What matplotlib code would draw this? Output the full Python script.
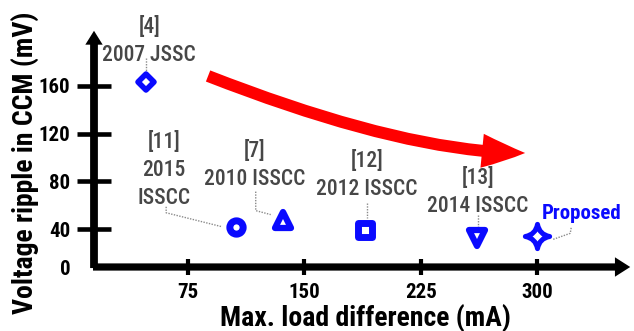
import matplotlib
matplotlib.use("Agg")
import matplotlib.pyplot as plt
import matplotlib.transforms as mtransforms
from matplotlib import font_manager
from matplotlib.markers import MarkerStyle
from matplotlib.patches import FancyArrowPatch
from matplotlib.path import Path

# load step vs. output ripple for published converters
refs = ["[4]", "[11]", "[7]", "[12]", "[13]", "Proposed"]
venues = ["2007 JSSC", "2015\nISSCC", "2010 ISSCC", "2012 ISSCC", "2014 ISSCC", ""]
load_diff = [48, 106, 136, 189, 261, 300]      # mA
ripple = [163, 42, 48, 39, 33, 34]             # mV

x_ticks = [75, 150, 225, 300]
y_ticks = [40, 80, 120, 160]

# condensed sans for all text
available = {f.name for f in font_manager.fontManager.ttflist}
narrow = next((n for n in ["Liberation Sans Narrow", "Arial Narrow", "Arimo Narrow",
                           "Roboto Condensed", "PT Sans Narrow", "Archivo Narrow"]
               if n in available), "Liberation Sans")
plt.rcParams["font.family"] = [narrow, "DejaVu Sans"]

BLUE = "#0a0aff"
GRAY = "#474747"

fig = plt.figure(figsize=(6.34, 3.31), dpi=100)
ax = fig.add_axes([94 / 634, 1 - 267 / 331, 539 / 634, 239 / 331])
ax.set_xlim(14.4, 361.7)
ax.set_ylim(8.3, 208.5)
for s in ax.spines.values():
    s.set_visible(False)

# axes drawn as arrows
ax.add_patch(FancyArrowPatch((-0.007, 0), (1, 0), transform=ax.transAxes,
                             arrowstyle="simple,head_length=11,head_width=14,tail_width=5.2",
                             mutation_scale=1, color="black", lw=0, clip_on=False))
ax.add_patch(FancyArrowPatch((0, -0.016), (0, 1), transform=ax.transAxes,
                             arrowstyle="simple,head_length=10,head_width=12.5,tail_width=5.6",
                             mutation_scale=1, color="black", lw=0, clip_on=False))

ax.set_xticks(x_ticks)
ax.set_yticks(y_ticks)
ax.tick_params(axis="x", direction="inout", length=12, width=3, pad=5.5,
               labelsize=15)
ax.tick_params(axis="y", direction="inout", length=25, width=3.3, pad=4.5,
               labelsize=15)
for lab in ax.get_xticklabels() + ax.get_yticklabels():
    lab.set_fontweight("bold")
ax.annotate("0", xy=(0, 0), xycoords="axes fraction", xytext=(-17, -2),
            textcoords="offset points", ha="right", va="center",
            fontsize=15, fontweight="bold")

ax.set_xlabel("Max. load difference (mA)", fontsize=20, fontweight="bold")
ax.xaxis.set_label_coords(0.5028, -0.245)
ax.xaxis.label.set_va("baseline")
ax.set_ylabel("Voltage ripple in CCM (mV)", fontsize=20, fontweight="bold")
ax.yaxis.set_label_coords(-0.113, 0.435)
ax.yaxis.label.set_va("baseline")

# four-point star for this work
c = 0.15
star = Path([(0, 1), (c, c), (1, 0), (c, -c), (0, -1), (-c, -c), (-1, 0), (-c, c), (0, 1), (0, 1)],
            [Path.MOVETO, Path.CURVE3, Path.CURVE3, Path.CURVE3, Path.CURVE3,
             Path.CURVE3, Path.CURVE3, Path.CURVE3, Path.CURVE3, Path.CLOSEPOLY])

shapes = ["D", "o", "^", "s", "v", star]
sizes = [7.8, 9.6, 12, 9.4, 12, 17.5]
edges = [4, 5, 4.5, 5, 4.5, 3.6]

# label block offset and leader line, in pixels from each marker
text_off = [(3, 41.5), (-72, 57), (-28, 55), (2, 55), (1, 45.5), (44, 23)]
leaders = [
    [(0, 24), (0, 8)],
    [(-70, 20), (-70, 14), (-14, 0)],
    [(-27, 28), (-27, 9), (-12, 5)],
    [(2, 27), (2, 12)],
    [(1, 23), (1, 10)],
    [(16, -3), (33, 3), (34, 9)],
]

for i in range(len(refs)):
    x, y = load_diff[i], ripple[i]
    ax.plot(x, y, linestyle="none",
            marker=MarkerStyle(shapes[i], joinstyle="round"),
            ms=sizes[i], mew=edges[i], mec=BLUE, mfc="white", zorder=4)
    trans = mtransforms.ScaledTranslation(x, y, ax.transData)
    lx, ly = zip(*leaders[i])
    ax.plot(lx, ly, transform=trans, color="#8a8a8a", lw=1, ls=(0, (1, 1)),
            clip_on=False, zorder=3)
    if refs[i] == "Proposed":
        ax.text(*text_off[i], refs[i], transform=trans, ha="center", va="center",
                fontsize=15, fontweight="bold", color=BLUE)
    else:
        ax.text(*text_off[i], refs[i] + "\n" + venues[i], transform=trans,
                ha="center", va="center", multialignment="center",
                fontsize=15.5, fontweight="medium", color=GRAY, linespacing=1.35)

# trend arrow toward lower ripple / larger load step
trend = Path([(87.9, 168.3), (214.9, 103.8), (292.2, 103.8)],
             [Path.MOVETO, Path.CURVE3, Path.CURVE3])
ax.add_patch(FancyArrowPatch(path=trend,
                             arrowstyle="simple,head_length=31,head_width=24.5,tail_width=8.6",
                             mutation_scale=1, color="#ff0000", lw=0, zorder=2))

fig.savefig("out.png", dpi=100)
